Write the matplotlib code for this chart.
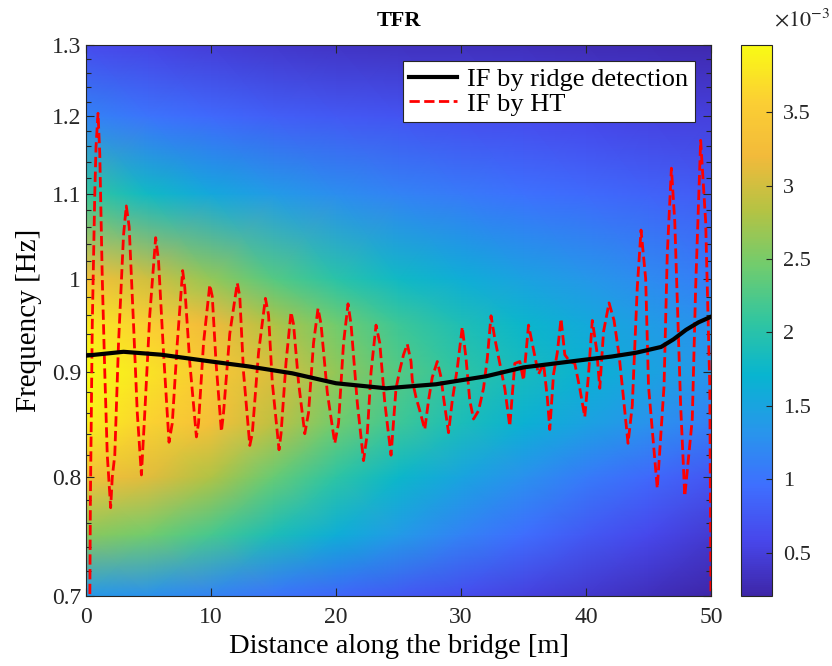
import numpy as np
import matplotlib
matplotlib.use('Agg')
import matplotlib.pyplot as plt
from matplotlib.colors import LinearSegmentedColormap
from matplotlib.ticker import FixedLocator, FixedFormatter, NullFormatter

plt.rcParams['font.family'] = ['Liberation Serif', 'DejaVu Serif']
plt.rcParams['mathtext.fontset'] = 'stix'

# TFR background, values in 1e-3
tfr_dist = [0, 5, 10, 15, 20, 25, 30, 35, 40, 45, 50]
tfr_freq = [0.7, 0.75, 0.8, 0.85, 0.9, 0.95, 1.0, 1.1, 1.2, 1.3]
tfr_vals = [
    [1.35, 1.28, 1.15, 1.00, 0.88, 0.76, 0.64, 0.52, 0.42, 0.32, 0.22],   # 0.70
    [2.60, 2.45, 2.20, 1.90, 1.62, 1.38, 1.15, 0.95, 0.76, 0.60, 0.45],   # 0.75
    [3.30, 3.10, 2.80, 2.40, 2.05, 1.75, 1.50, 1.28, 1.08, 0.90, 0.74],   # 0.80
    [3.85, 3.60, 3.30, 2.90, 2.45, 2.15, 1.88, 1.66, 1.48, 1.30, 1.12],   # 0.85
    [3.95, 3.75, 3.45, 3.05, 2.65, 2.30, 2.05, 1.85, 1.68, 1.50, 1.32],   # 0.90
    [3.80, 3.55, 3.20, 2.80, 2.45, 2.15, 1.92, 1.74, 1.58, 1.42, 1.28],   # 0.95
    [3.30, 3.00, 2.65, 2.30, 2.02, 1.80, 1.62, 1.48, 1.35, 1.22, 1.10],   # 1.00
    [2.10, 1.80, 1.55, 1.38, 1.26, 1.15, 1.06, 0.98, 0.91, 0.84, 0.78],   # 1.10
    [1.15, 1.00, 0.90, 0.82, 0.76, 0.71, 0.66, 0.62, 0.58, 0.54, 0.50],   # 1.20
    [0.62, 0.55, 0.48, 0.42, 0.38, 0.35, 0.33, 0.31, 0.29, 0.27, 0.25],   # 1.30
]

# IF by ridge detection
ridge_x = [0, 3, 6, 10, 13, 16.5, 20, 24, 28, 32, 35, 40, 42, 44, 46, 47, 48, 49, 50]
ridge_f = [0.917, 0.921, 0.918, 0.911, 0.906, 0.899, 0.889, 0.884, 0.888, 0.896,
           0.905, 0.913, 0.916, 0.920, 0.926, 0.934, 0.944, 0.952, 0.958]

# IF by HT
ht_x = [0.3, 0.35, 0.5, 0.7, 0.8, 0.96, 1.1, 1.3, 1.5, 1.7, 1.97, 2.1, 2.3, 2.6, 3.0, 3.22,
        3.45, 3.8, 4.1, 4.43, 4.7, 5.1, 5.57, 5.8, 6.2, 6.64, 6.9, 7.3, 7.73, 7.9, 8.3,
        8.83, 9.0, 9.4, 9.9, 10.1, 10.4, 10.83, 11.0, 11.5, 12.1, 12.3, 12.6, 13.1, 13.3,
        13.8, 14.35, 14.6, 14.9, 15.44, 15.6, 16.0, 16.4, 16.6, 17.0, 17.5, 17.8, 18.2,
        18.56, 18.8, 19.3, 19.9, 20.2, 20.6, 20.96, 21.2, 21.7, 22.2, 22.5, 22.8, 23.2,
        23.5, 23.9, 24.4,
        24.8, 25.1, 25.4, 25.7, 26.0, 26.1, 26.4, 26.7, 27.1, 27.4, 27.7, 28.1, 28.4,
        28.6, 29.0, 29.3, 29.7, 30.1, 30.4, 30.7, 31.0, 31.4, 31.8, 32.1, 32.4, 32.7,
        33.1, 33.5, 33.9, 34.3, 34.7, 35.0, 35.4, 35.8, 36.2, 36.6, 36.9, 37.1, 37.4,
        37.7, 38.0, 38.3, 38.7, 39.1, 39.5, 39.9, 40.2, 40.5, 40.85, 41.1, 41.4, 41.84,
        42.24, 42.64, 42.9, 43.36, 43.7, 44.1, 44.4, 44.77, 45.0, 45.7, 46.24, 46.5,
        46.83, 47.1, 47.57, 47.9, 48.5, 48.77, 49.17, 49.57, 49.9, 50.0]
ht_f = [0.69, 0.78, 0.95, 1.10, 1.16, 1.204, 1.15, 1.00, 0.90, 0.82, 0.773, 0.80, 0.82,
        0.93, 1.05, 1.085, 1.06, 0.95, 0.86, 0.802, 0.86, 0.96, 1.047, 1.02, 0.92, 0.832,
        0.85, 0.93, 1.009, 0.99, 0.91, 0.837, 0.85, 0.93, 0.993, 0.98, 0.91, 0.842, 0.86,
        0.94, 0.995, 0.98, 0.90, 0.829, 0.84, 0.92, 0.978, 0.96, 0.89, 0.825, 0.84, 0.91,
        0.963, 0.95, 0.89, 0.840, 0.86, 0.93, 0.967, 0.95, 0.88, 0.831, 0.85, 0.93, 0.972,
        0.95, 0.87, 0.815, 0.84, 0.90, 0.949, 0.93, 0.87, 0.820,
        0.884, 0.902, 0.918, 0.929, 0.911, 0.892, 0.875, 0.862, 0.844, 0.872, 0.895,
        0.911, 0.895, 0.875, 0.841, 0.872, 0.904, 0.947, 0.914, 0.872, 0.854, 0.862,
        0.884, 0.914, 0.959, 0.935, 0.909, 0.884, 0.847, 0.909, 0.911, 0.892, 0.949,
        0.923, 0.898, 0.909, 0.875, 0.844, 0.898, 0.920, 0.956, 0.918, 0.911, 0.909,
        0.884, 0.856, 0.898, 0.954, 0.923, 0.884, 0.942, 0.973, 0.954, 0.918, 0.886,
        0.831, 0.867, 0.990, 1.056, 1.000, 0.886, 0.790, 0.886, 1.028, 1.132, 1.066,
        0.867, 0.783, 0.854, 0.990, 1.168, 1.066, 0.886, 0.69]

# parula-like colormap
parula = LinearSegmentedColormap.from_list('parula', [
    (0.0, (0.2422, 0.1504, 0.6603)),
    (0.1, (0.2803, 0.2782, 0.9221)),
    (0.2, (0.2440, 0.4358, 0.9988)),
    (0.3, (0.1540, 0.5902, 0.9218)),
    (0.4, (0.0297, 0.7082, 0.8163)),
    (0.5, (0.1938, 0.7758, 0.6251)),
    (0.6, (0.4420, 0.8000, 0.4300)),
    (0.7, (0.7060, 0.7635, 0.2652)),
    (0.8, (0.9500, 0.7300, 0.2300)),
    (0.9, (0.9856, 0.8126, 0.2012)),
    (1.0, (0.9769, 0.9839, 0.0805)),
])

fig = plt.figure(figsize=(8.32, 6.66), dpi=100)
ax = fig.add_axes([0.1034, 0.1051, 0.7512, 0.8273])
cax = fig.add_axes([0.8906, 0.1051, 0.0373, 0.8273])

X, Y = np.meshgrid(tfr_dist, tfr_freq)
C = np.array(tfr_vals) * 1e-3
mesh = ax.pcolormesh(X, Y, C, shading='gouraud', cmap=parula,
                     vmin=0.207e-3, vmax=3.956e-3, rasterized=True)

ax.plot(ridge_x, ridge_f, color='black', lw=3, label='IF by ridge detection', zorder=3)
ax.plot(ht_x, ht_f, color='red', lw=2, ls='--', label='IF by HT', zorder=2)

ax.set_yscale('log')
ax.set_xlim(0, 50)
ax.set_ylim(0.7, 1.3)

yt = [0.7, 0.8, 0.9, 1.0, 1.1, 1.2, 1.3]
ax.yaxis.set_major_locator(FixedLocator(yt))
ax.yaxis.set_major_formatter(FixedFormatter(['0.7', '0.8', '0.9', '1', '1.1', '1.2', '1.3']))
ax.yaxis.set_minor_locator(FixedLocator(np.arange(0.70, 1.301, 0.02)))
ax.yaxis.set_minor_formatter(NullFormatter())
ax.set_xticks([0, 10, 20, 30, 40, 50])

ax.tick_params(which='both', direction='in', top=True, right=True,
               labelsize=17, colors='#262626', width=0.8)
ax.tick_params(which='major', length=6)
ax.tick_params(axis='x', pad=8)
ax.tick_params(which='minor', length=3.5)
for s in ax.spines.values():
    s.set_color('#262626')
    s.set_linewidth(0.8)

ax.set_xlabel('Distance along the bridge [m]', fontsize=20.5, labelpad=4)
ax.set_ylabel('Frequency [Hz]', fontsize=21, labelpad=7)
ax.set_title('TFR', fontsize=16, fontweight='bold', pad=14)

leg = ax.legend(loc='upper right', fontsize=19, fancybox=False, framealpha=1,
                edgecolor='#262626', borderpad=0.25, handlelength=1.8,
                handletextpad=0.4, labelspacing=0.05, borderaxespad=0.6)
leg.get_frame().set_linewidth(0.8)

cb = fig.colorbar(mesh, cax=cax)
cb.set_ticks([0.5e-3, 1e-3, 1.5e-3, 2e-3, 2.5e-3, 3e-3, 3.5e-3])
cb.set_ticklabels(['0.5', '1', '1.5', '2', '2.5', '3', '3.5'])
cax.tick_params(direction='in', length=4, labelsize=16, colors='#262626', width=0.8, pad=8)
cb.outline.set_edgecolor('#262626')
cb.outline.set_linewidth(0.8)
cax.text(1.05, 1.025, r'$\times10^{-3}$', transform=cax.transAxes,
         fontsize=16, color='#262626', ha='left', va='bottom')

fig.savefig('out.png', dpi=100)
